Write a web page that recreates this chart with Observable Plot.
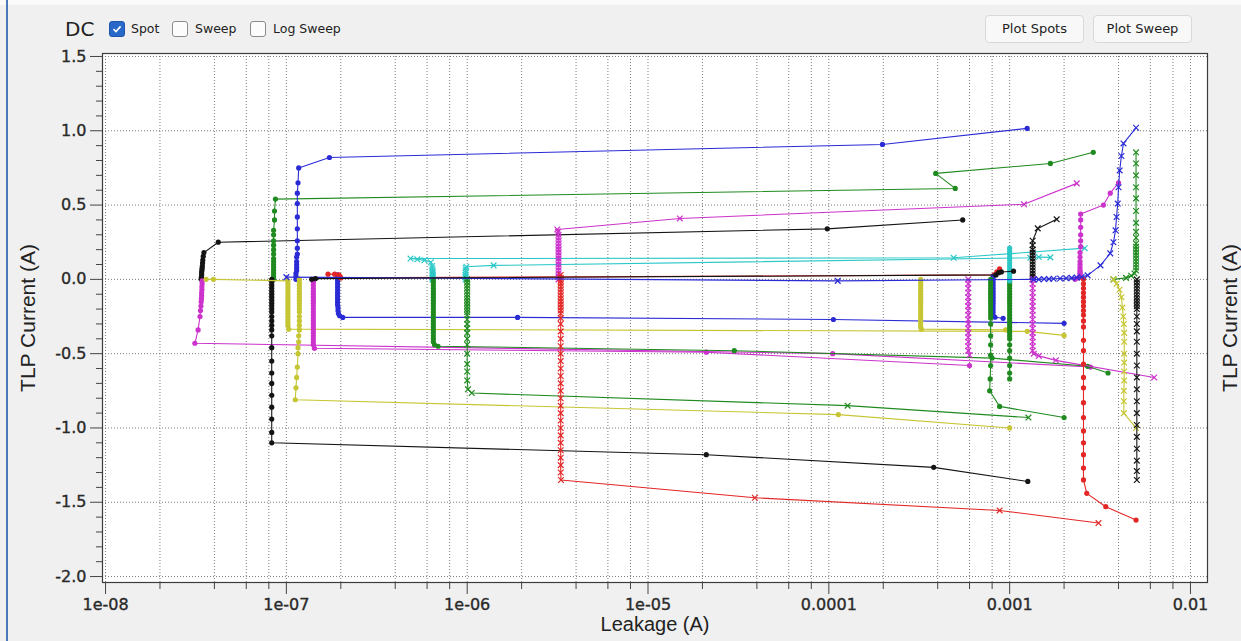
<!DOCTYPE html>
<html>
<head>
<meta charset="utf-8">
<script src="https://cdn.jsdelivr.net/npm/d3@7"></script>
<script src="https://cdn.jsdelivr.net/npm/@observablehq/plot@0.6"></script>
<style>
html,body{margin:0;padding:0;}
body{width:1241px;height:641px;background:#f0f0f0;position:relative;overflow:hidden;font-family:"DejaVu Sans",Verdana,sans-serif;}
#topband{position:absolute;left:0;top:0;width:1241px;height:5px;background:#fafafa;}
#edge{position:absolute;left:6px;top:0;width:2px;height:641px;background:#4a78b8;}
#chart{position:absolute;left:0;top:0;}
.hdr{position:absolute;color:#222;white-space:nowrap;}
#dc{left:65px;top:17px;font-size:20px;}
.cb{position:absolute;top:21px;width:16px;height:16px;border:1px solid #8c8c8c;border-radius:3px;background:#fcfcfc;box-sizing:border-box;}
.cb.on{background:#2868c8;border-color:#1f56ab;}
.cb svg{position:absolute;left:1px;top:1px;}
.lbl{position:absolute;top:21px;font-size:12.5px;color:#222;}
.btn{position:absolute;top:15px;height:28px;width:99px;background:#f8f8f8;border:1px solid #d9d9d9;border-radius:4px;box-sizing:border-box;font-size:13px;color:#222;text-align:center;line-height:26px;}
</style>
</head>
<body>
<div id="topband"></div>
<div id="chart"></div>
<div id="edge"></div>
<div class="hdr" id="dc">DC</div>
<div class="cb on" style="left:109px"><svg width="12" height="12" viewBox="0 0 12 12"><path d="M2.5 6.2 L5 8.6 L9.6 3.4" fill="none" stroke="#fff" stroke-width="1.6"/></svg></div>
<div class="lbl" style="left:131px">Spot</div>
<div class="cb" style="left:172px"></div>
<div class="lbl" style="left:195px">Sweep</div>
<div class="cb" style="left:250px"></div>
<div class="lbl" style="left:273px">Log Sweep</div>
<div class="btn" style="left:985px">Plot Spots</div>
<div class="btn" style="left:1093px">Plot Sweep</div>
<script>
// ---- data: [leakage (A), TLP current (A)] per measured series ----
const kA = [[3.38e-8,0.00],[3.39e-8,0.015],[3.40e-8,0.03],[3.40e-8,0.045],[3.41e-8,0.06],[3.42e-8,0.075],[3.43e-8,0.09],[3.44e-8,0.11],[3.45e-8,0.13],[3.47e-8,0.155],[3.50e-8,0.18],[4.2e-8,0.25],[9.8e-5,0.34],[5.5e-4,0.40]];
const mB = [[3.42e-8,-0.01],[3.42e-8,-0.03],[3.41e-8,-0.05],[3.41e-8,-0.07],[3.40e-8,-0.09],[3.40e-8,-0.11],[3.39e-8,-0.13],[3.38e-8,-0.15],[3.37e-8,-0.18],[3.35e-8,-0.21],[3.33e-8,-0.25],[3.25e-8,-0.34],[3.12e-8,-0.43],[1.05e-4,-0.50],[2.8e-3,-0.59]];
const gA = [[8.5e-8,0.00],[8.5e-8,0.02],[8.5e-8,0.04],[8.5e-8,0.06],[8.5e-8,0.08],[8.5e-8,0.10],[8.5e-8,0.12],[8.5e-8,0.14],[8.5e-8,0.17],[8.5e-8,0.20],[8.5e-8,0.23],[8.5e-8,0.26],[8.5e-8,0.30],[8.5e-8,0.33],[8.6e-8,0.40],[8.6e-8,0.46],[8.7e-8,0.54],[5.0e-4,0.612],[3.9e-4,0.713],[1.68e-3,0.78],[2.9e-3,0.855]];
const kB = [[8.3e-8,0.00],[8.3e-8,-0.02],[8.3e-8,-0.04],[8.3e-8,-0.06],[8.3e-8,-0.08],[8.3e-8,-0.10],[8.3e-8,-0.12],[8.3e-8,-0.14],[8.3e-8,-0.16],[8.3e-8,-0.18],[8.3e-8,-0.20],[8.3e-8,-0.22],[8.3e-8,-0.25],[8.3e-8,-0.28],[8.3e-8,-0.31],[8.3e-8,-0.34],[8.3e-8,-0.38],[8.3e-8,-0.46],[8.3e-8,-0.55],[8.3e-8,-0.63],[8.3e-8,-0.70],[8.3e-8,-0.78],[8.3e-8,-0.86],[8.3e-8,-0.94],[8.3e-8,-1.03],[8.3e-8,-1.10],[2.1e-5,-1.18],[3.8e-4,-1.265],[1.26e-3,-1.36]];
const bA = [[1.13e-7,0.00],[1.13e-7,0.02],[1.13e-7,0.04],[1.14e-7,0.06],[1.14e-7,0.08],[1.14e-7,0.10],[1.14e-7,0.12],[1.14e-7,0.15],[1.15e-7,0.17],[1.15e-7,0.21],[1.15e-7,0.26],[1.15e-7,0.34],[1.15e-7,0.42],[1.15e-7,0.51],[1.15e-7,0.58],[1.16e-7,0.65],[1.17e-7,0.75],[1.73e-7,0.82],[1.98e-4,0.908],[1.25e-3,1.016]];
const yA = [[3.6e-8,0.00],[3.95e-8,0.00],[1.02e-7,-0.01],[1.02e-7,-0.03],[1.02e-7,-0.05],[1.02e-7,-0.07],[1.02e-7,-0.09],[1.02e-7,-0.11],[1.02e-7,-0.13],[1.02e-7,-0.15],[1.02e-7,-0.17],[1.02e-7,-0.19],[1.02e-7,-0.21],[1.02e-7,-0.23],[1.02e-7,-0.25],[1.02e-7,-0.27],[1.02e-7,-0.29],[1.02e-7,-0.31],[1.03e-7,-0.335],[1.25e-3,-0.35],[2.0e-3,-0.377]];
const yB = [[1.18e-7,0.00],[1.18e-7,-0.02],[1.18e-7,-0.04],[1.18e-7,-0.06],[1.18e-7,-0.08],[1.18e-7,-0.10],[1.18e-7,-0.12],[1.18e-7,-0.14],[1.18e-7,-0.16],[1.18e-7,-0.18],[1.18e-7,-0.20],[1.18e-7,-0.22],[1.18e-7,-0.25],[1.18e-7,-0.28],[1.18e-7,-0.31],[1.18e-7,-0.34],[1.17e-7,-0.38],[1.17e-7,-0.42],[1.16e-7,-0.46],[1.16e-7,-0.50],[1.15e-7,-0.59],[1.14e-7,-0.66],[1.13e-7,-0.73],[1.12e-7,-0.81],[1.13e-4,-0.91],[1.0e-3,-1.0]];
const mC = [[1.41e-7,0.00],[1.41e-7,-0.02],[1.41e-7,-0.04],[1.41e-7,-0.06],[1.41e-7,-0.08],[1.41e-7,-0.10],[1.41e-7,-0.12],[1.41e-7,-0.14],[1.41e-7,-0.16],[1.41e-7,-0.18],[1.41e-7,-0.20],[1.41e-7,-0.22],[1.41e-7,-0.24],[1.41e-7,-0.26],[1.41e-7,-0.28],[1.41e-7,-0.30],[1.41e-7,-0.32],[1.41e-7,-0.34],[1.41e-7,-0.36],[1.41e-7,-0.38],[1.41e-7,-0.40],[1.41e-7,-0.42],[1.41e-7,-0.44],[1.43e-7,-0.464],[2.1e-5,-0.49],[6.0e-4,-0.58]];
const bB = [[1.92e-7,0.03],[1.92e-7,0.01],[1.92e-7,-0.01],[1.92e-7,-0.03],[1.92e-7,-0.05],[1.92e-7,-0.07],[1.92e-7,-0.09],[1.92e-7,-0.11],[1.92e-7,-0.13],[1.92e-7,-0.15],[1.92e-7,-0.17],[1.93e-7,-0.19],[1.93e-7,-0.21],[1.94e-7,-0.23],[1.97e-7,-0.245],[2.05e-7,-0.256],[1.9e-6,-0.256],[1.06e-4,-0.27],[2.0e-3,-0.296]];
const rA = [[1.7e-7,0.035],[1.85e-7,0.035],[1.95e-7,0.03],[1.98e-7,0.02],[2.0e-7,0.01],[8.2e-4,0.03],[8.5e-4,0.05],[8.8e-4,0.07]];
const cA = [[6.44e-7,0.00],[6.44e-7,0.01],[6.44e-7,0.02],[6.44e-7,0.03],[6.44e-7,0.04],[6.44e-7,0.05],[6.44e-7,0.06],[6.42e-7,0.075],[6.4e-7,0.09],[6.3e-7,0.115],[5.8e-7,0.128],[5.3e-7,0.135],[4.86e-7,0.14],[4.9e-4,0.145],[2.6e-3,0.21]];
const gB = [[6.5e-7,0.00],[6.5e-7,-0.02],[6.5e-7,-0.04],[6.5e-7,-0.06],[6.5e-7,-0.08],[6.5e-7,-0.10],[6.5e-7,-0.12],[6.5e-7,-0.14],[6.5e-7,-0.16],[6.5e-7,-0.18],[6.5e-7,-0.20],[6.5e-7,-0.22],[6.5e-7,-0.24],[6.5e-7,-0.26],[6.5e-7,-0.28],[6.5e-7,-0.30],[6.5e-7,-0.32],[6.5e-7,-0.34],[6.5e-7,-0.36],[6.5e-7,-0.38],[6.5e-7,-0.40],[6.5e-7,-0.42],[6.6e-7,-0.44],[6.9e-7,-0.45],[3.0e-5,-0.48],[8.0e-4,-0.53],[2.7e-3,-0.585],[3.5e-3,-0.63]];
const cB = [[9.8e-7,0.00],[9.8e-7,0.015],[9.8e-7,0.03],[9.8e-7,0.045],[9.8e-7,0.06],[9.8e-7,0.075],[9.9e-7,0.085],[1.4e-6,0.094],[1.3e-3,0.145],[1.45e-3,0.15],[1.68e-3,0.148]];
const gC = [[1.0e-6,0.00],[1.0e-6,-0.02],[1.0e-6,-0.04],[1.0e-6,-0.06],[1.0e-6,-0.08],[1.0e-6,-0.10],[1.0e-6,-0.12],[1.0e-6,-0.14],[1.0e-6,-0.16],[1.0e-6,-0.18],[1.0e-6,-0.20],[1.0e-6,-0.22],[1.0e-6,-0.24],[1.0e-6,-0.27],[1.0e-6,-0.30],[1.0e-6,-0.33],[1.0e-6,-0.36],[1.0e-6,-0.40],[1.0e-6,-0.44],[1.0e-6,-0.50],[1.0e-6,-0.57],[1.0e-6,-0.62],[1.0e-6,-0.68],[1.01e-6,-0.74],[1.06e-6,-0.765],[1.27e-4,-0.85],[1.27e-3,-0.93]];
const mD = [[3.2e-6,0.00],[3.2e-6,0.02],[3.2e-6,0.04],[3.2e-6,0.06],[3.2e-6,0.08],[3.2e-6,0.10],[3.2e-6,0.12],[3.2e-6,0.14],[3.2e-6,0.16],[3.2e-6,0.18],[3.2e-6,0.20],[3.2e-6,0.22],[3.2e-6,0.24],[3.2e-6,0.26],[3.2e-6,0.28],[3.2e-6,0.30],[3.18e-6,0.32],[3.15e-6,0.336],[1.5e-5,0.41],[1.2e-3,0.505],[2.35e-3,0.646]];
const rB = [[3.29e-6,0.03],[3.29e-6,0.01],[3.29e-6,-0.01],[3.29e-6,-0.03],[3.29e-6,-0.05],[3.29e-6,-0.07],[3.29e-6,-0.09],[3.29e-6,-0.11],[3.29e-6,-0.13],[3.29e-6,-0.15],[3.29e-6,-0.17],[3.29e-6,-0.19],[3.29e-6,-0.21],[3.29e-6,-0.23],[3.29e-6,-0.26],[3.29e-6,-0.30],[3.29e-6,-0.35],[3.29e-6,-0.40],[3.29e-6,-0.45],[3.29e-6,-0.50],[3.29e-6,-0.55],[3.29e-6,-0.60],[3.29e-6,-0.65],[3.29e-6,-0.70],[3.29e-6,-0.75],[3.29e-6,-0.80],[3.29e-6,-0.85],[3.29e-6,-0.90],[3.29e-6,-0.95],[3.29e-6,-1.00],[3.29e-6,-1.05],[3.29e-6,-1.10],[3.29e-6,-1.15],[3.29e-6,-1.20],[3.29e-6,-1.25],[3.29e-6,-1.30],[3.3e-6,-1.35],[3.9e-5,-1.47],[8.8e-4,-1.555],[3.1e-3,-1.64]];
const yC = [[3.22e-4,0.00],[3.22e-4,-0.02],[3.22e-4,-0.04],[3.22e-4,-0.06],[3.22e-4,-0.08],[3.22e-4,-0.10],[3.22e-4,-0.12],[3.22e-4,-0.14],[3.22e-4,-0.16],[3.22e-4,-0.18],[3.22e-4,-0.20],[3.22e-4,-0.22],[3.22e-4,-0.24],[3.22e-4,-0.26],[3.22e-4,-0.28],[3.22e-4,-0.30],[3.22e-4,-0.32],[3.25e-4,-0.335],[9.5e-4,-0.34]];
const mE = [[5.9e-4,0.00],[5.9e-4,-0.03],[5.9e-4,-0.06],[5.9e-4,-0.09],[5.9e-4,-0.12],[5.9e-4,-0.15],[5.9e-4,-0.18],[5.9e-4,-0.21],[5.9e-4,-0.24],[5.9e-4,-0.27],[5.9e-4,-0.30],[5.9e-4,-0.33],[5.9e-4,-0.36],[5.9e-4,-0.39],[5.9e-4,-0.42],[5.9e-4,-0.45],[5.9e-4,-0.48],[6.0e-4,-0.51]];
const bC = [[8.1e-4,0.02],[8.1e-4,0.00],[8.1e-4,-0.02],[8.1e-4,-0.04],[8.1e-4,-0.06],[8.1e-4,-0.08],[8.1e-4,-0.10],[8.1e-4,-0.12],[8.1e-4,-0.14],[8.1e-4,-0.16],[8.1e-4,-0.18],[8.1e-4,-0.20],[8.1e-4,-0.22],[8.1e-4,-0.24],[8.3e-4,-0.255],[9.2e-4,-0.262]];
const gD = [[7.85e-4,0.00],[7.85e-4,-0.02],[7.85e-4,-0.04],[7.85e-4,-0.06],[7.85e-4,-0.08],[7.85e-4,-0.10],[7.85e-4,-0.12],[7.85e-4,-0.14],[7.85e-4,-0.16],[7.85e-4,-0.18],[7.85e-4,-0.20],[7.85e-4,-0.22],[7.85e-4,-0.24],[7.85e-4,-0.26],[7.85e-4,-0.30],[7.85e-4,-0.38],[7.85e-4,-0.44],[7.85e-4,-0.51],[7.85e-4,-0.58],[7.8e-4,-0.67],[7.75e-4,-0.75],[8.8e-4,-0.855],[2.0e-3,-0.93]];
const gE = [[1.0e-3,0.00],[1.0e-3,-0.02],[1.0e-3,-0.04],[1.0e-3,-0.06],[1.0e-3,-0.08],[1.0e-3,-0.10],[1.0e-3,-0.12],[1.0e-3,-0.14],[1.0e-3,-0.16],[1.0e-3,-0.18],[1.0e-3,-0.20],[1.0e-3,-0.22],[1.0e-3,-0.24],[1.0e-3,-0.26],[1.0e-3,-0.28],[1.0e-3,-0.30],[1.0e-3,-0.32],[1.0e-3,-0.34],[1.0e-3,-0.36],[1.0e-3,-0.38],[1.0e-3,-0.40],[1.0e-3,-0.44],[1.0e-3,-0.48],[1.0e-3,-0.53],[1.0e-3,-0.58],[1.0e-3,-0.63],[1.0e-3,-0.67]];
const cC = [[1.0e-3,-0.01],[1.0e-3,0.01],[1.0e-3,0.03],[1.0e-3,0.05],[1.0e-3,0.07],[1.0e-3,0.09],[1.0e-3,0.11],[1.0e-3,0.13],[1.0e-3,0.15],[1.0e-3,0.17],[1.0e-3,0.19],[1.0e-3,0.21]];
const kC = [[1.34e-3,0.00],[1.34e-3,0.02],[1.34e-3,0.04],[1.34e-3,0.06],[1.34e-3,0.08],[1.34e-3,0.10],[1.34e-3,0.12],[1.34e-3,0.14],[1.34e-3,0.16],[1.34e-3,0.18],[1.34e-3,0.20],[1.34e-3,0.23],[1.34e-3,0.26],[1.43e-3,0.343],[1.82e-3,0.404]];
const mF = [[1.34e-3,0.00],[1.34e-3,-0.03],[1.34e-3,-0.06],[1.34e-3,-0.09],[1.34e-3,-0.12],[1.34e-3,-0.15],[1.34e-3,-0.18],[1.34e-3,-0.21],[1.34e-3,-0.24],[1.34e-3,-0.27],[1.34e-3,-0.30],[1.34e-3,-0.33],[1.34e-3,-0.36],[1.34e-3,-0.39],[1.34e-3,-0.42],[1.34e-3,-0.45],[1.34e-3,-0.48],[1.36e-3,-0.50],[1.45e-3,-0.515],[1.8e-3,-0.545],[6.3e-3,-0.66]];
const mG = [[2.3e-3,0.00],[2.4e-3,0.01],[2.45e-3,0.02],[2.45e-3,0.03],[2.45e-3,0.04],[2.45e-3,0.05],[2.45e-3,0.06],[2.45e-3,0.08],[2.45e-3,0.10],[2.45e-3,0.12],[2.45e-3,0.15],[2.45e-3,0.18],[2.47e-3,0.22],[2.47e-3,0.26],[2.47e-3,0.30],[2.47e-3,0.35],[2.47e-3,0.40],[2.47e-3,0.44],[3.3e-3,0.50],[3.6e-3,0.58],[4.0e-3,0.65]];
const rC = [[2.56e-3,0.00],[2.56e-3,-0.03],[2.56e-3,-0.06],[2.56e-3,-0.09],[2.56e-3,-0.12],[2.56e-3,-0.15],[2.56e-3,-0.18],[2.56e-3,-0.21],[2.56e-3,-0.24],[2.56e-3,-0.28],[2.56e-3,-0.32],[2.56e-3,-0.41],[2.56e-3,-0.48],[2.56e-3,-0.57],[2.56e-3,-0.66],[2.56e-3,-0.73],[2.56e-3,-0.83],[2.56e-3,-0.93],[2.56e-3,-1.02],[2.56e-3,-1.10],[2.56e-3,-1.18],[2.56e-3,-1.27],[2.56e-3,-1.35],[2.67e-3,-1.44],[3.4e-3,-1.53],[5.0e-3,-1.62]];
const bD = [[1.0e-7,0.015],[1.12e-4,-0.01],[1.36e-3,0.0],[1.45e-3,0.0],[1.55e-3,0.002],[1.65e-3,0.003],[1.75e-3,0.004],[1.9e-3,0.006],[2.05e-3,0.008],[2.2e-3,0.01],[2.35e-3,0.012],[2.5e-3,0.016],[2.7e-3,0.027],[3.18e-3,0.094],[3.6e-3,0.175],[3.75e-3,0.25],[3.85e-3,0.33],[3.9e-3,0.42],[3.96e-3,0.51],[4.0e-3,0.62],[4.06e-3,0.733],[4.15e-3,0.83],[4.26e-3,0.915],[5.0e-3,1.02]];
const gF = [[3.75e-3,0.00],[4.4e-3,0.01],[4.7e-3,0.025],[4.9e-3,0.04],[5.0e-3,0.06],[5.0e-3,0.08],[5.0e-3,0.10],[5.0e-3,0.12],[5.0e-3,0.14],[5.0e-3,0.16],[5.0e-3,0.18],[5.0e-3,0.20],[5.0e-3,0.22],[5.0e-3,0.24],[5.0e-3,0.28],[5.0e-3,0.32],[5.0e-3,0.38],[5.0e-3,0.46],[5.0e-3,0.545],[5.0e-3,0.62],[5.0e-3,0.70],[5.0e-3,0.78],[5.0e-3,0.855]];
const yD = [[3.76e-3,0.00],[3.9e-3,-0.03],[4.05e-3,-0.07],[4.15e-3,-0.12],[4.2e-3,-0.19],[4.25e-3,-0.25],[4.28e-3,-0.30],[4.3e-3,-0.36],[4.3e-3,-0.42],[4.3e-3,-0.50],[4.3e-3,-0.56],[4.3e-3,-0.62],[4.3e-3,-0.68],[4.28e-3,-0.75],[4.28e-3,-0.82],[4.28e-3,-0.90],[5.0e-3,-1.0]];
const kD = [[5.05e-3,0.00],[5.05e-3,-0.02],[5.05e-3,-0.04],[5.05e-3,-0.06],[5.05e-3,-0.08],[5.05e-3,-0.10],[5.05e-3,-0.12],[5.05e-3,-0.14],[5.05e-3,-0.16],[5.05e-3,-0.18],[5.05e-3,-0.20],[5.05e-3,-0.25],[5.05e-3,-0.30],[5.05e-3,-0.35],[5.05e-3,-0.42],[5.05e-3,-0.50],[5.05e-3,-0.58],[5.05e-3,-0.66],[5.05e-3,-0.74],[5.05e-3,-0.82],[5.05e-3,-0.90],[5.05e-3,-0.98],[5.05e-3,-1.06],[5.05e-3,-1.14],[5.05e-3,-1.22],[5.05e-3,-1.29],[5.05e-3,-1.35]];
const kE = [[1.38e-7,0.00],[1.45e-7,0.005],[8.4e-4,0.03],[8.7e-4,0.045],[9.0e-4,0.05],[1.05e-3,0.055]];

// ---- axes: tick values and labels ----
const xMajor = [1e-8, 1e-7, 1e-6, 1e-5, 1e-4, 1e-3, 1e-2];
const xMajorLabels = ["1e-08", "1e-07", "1e-06", "1e-05", "0.0001", "0.001", "0.01"];
const xMinor = [2e-8,4e-8,6e-8,8e-8, 2e-7,4e-7,6e-7,8e-7, 2e-6,4e-6,6e-6,8e-6, 2e-5,4e-5,6e-5,8e-5, 2e-4,4e-4,6e-4,8e-4, 2e-3,4e-3,6e-3,8e-3];
const yMajor = [1.5, 1.0, 0.5, 0.0, -0.5, -1.0, -1.5, -2.0];
const yMajorLabels = ["1.5", "1.0", "0.5", "0.0", "-0.5", "-1.0", "-1.5", "-2.0"];
const yMinor = [1.4,1.3,1.2,1.1, 0.9,0.8,0.7,0.6, 0.4,0.3,0.2,0.1, -0.1,-0.2,-0.3,-0.4, -0.6,-0.7,-0.8,-0.9, -1.1,-1.2,-1.3,-1.4, -1.6,-1.7,-1.8,-1.9];

// ---- styles ----
const BLUE = "#2b2bd6", GREEN = "#1f8a1f", MAGENTA = "#cc33cc", BLACK = "#141414",
      RED = "#e32626", YELLOW = "#c6c634", CYAN = "#2cc8c8";
const seriesList   = [kA, mB, gA, kB, bA, yA, yB, mC, bB, rA, cA, gB, cB, gC, mD, rB, yC, mE, bC, gD, gE, cC, kC, mF, mG, rC, bD, gF, yD, kD, kE];
const seriesColor  = [BLACK, MAGENTA, GREEN, BLACK, BLUE, YELLOW, YELLOW, MAGENTA, BLUE, RED, CYAN, GREEN, CYAN, GREEN, MAGENTA, RED, YELLOW, MAGENTA, BLUE, GREEN, GREEN, CYAN, BLACK, MAGENTA, MAGENTA, RED, BLUE, GREEN, YELLOW, BLACK, BLACK];
const seriesSymbol = ["dot","dot","dot","dot","dot","dot","dot","dot","dot","dot","x","dot","x","x","x","x","dot","x","dot","dot","dot","dot","x","x","dot","dot","x","x","x","x","dot"];

const dataMarks = [];
seriesList.forEach((s, k) => {
  const rows = s.map(([x, y]) => ({x, y}));
  const c = seriesColor[k];
  dataMarks.push(Plot.line(rows, {x: "x", y: "y", stroke: c, strokeWidth: 1.1}));
  if (seriesSymbol[k] === "dot") {
    dataMarks.push(Plot.dot(rows, {x: "x", y: "y", r: 2.6, fill: c, stroke: "none"}));
  } else {
    dataMarks.push(Plot.dot(rows, {x: "x", y: "y", r: 2.7, symbol: "times", stroke: c, strokeWidth: 1.2}));
  }
});

const gridStyle = {stroke: "#6e6e6e", strokeOpacity: 0.9, strokeDasharray: "1,2", strokeWidth: 1};
const tickFont = "DejaVu Sans, Verdana, sans-serif";
const labelFont = "Liberation Sans, Arial, sans-serif";

const chart = Plot.plot({
  width: 1241,
  height: 641,
  marginLeft: 102,
  marginRight: 34,
  marginTop: 53,
  marginBottom: 59,
  style: {background: "transparent", fontFamily: tickFont, color: "#333"},
  x: {type: "log", domain: [9.62e-9, 1.242e-2]},
  y: {domain: [-2.04, 1.52]},
  marks: [
    Plot.frame({fill: "white", stroke: "none"}),
    Plot.gridX({ticks: xMajor.concat(xMinor), ...gridStyle}),
    Plot.gridY({ticks: yMajor, ...gridStyle}),
    ...dataMarks,
    Plot.frame({stroke: "#3c3c3c", strokeWidth: 1.2}),
    Plot.axisX({ticks: xMajor, tickSize: 12, tickPadding: 4, label: null, fontSize: 16,
      tickFormat: d => xMajorLabels[xMajor.indexOf(d)], stroke: "#444", fill: "#2a2a2a"}),
    Plot.axisX({ticks: xMinor, tickSize: 7, label: null, tickFormat: () => "", stroke: "#444"}),
    Plot.axisY({ticks: yMajor, tickSize: 12, tickPadding: 4, label: null, fontSize: 16,
      tickFormat: d => yMajorLabels[yMajor.indexOf(d)], stroke: "#444", fill: "#2a2a2a"}),
    Plot.axisY({ticks: yMinor, tickSize: 6, label: null, tickFormat: () => "", stroke: "#444"}),
    Plot.text(["TLP Current (A)"], {text: d => d, frameAnchor: "left", dx: -74, rotate: -90,
      textAnchor: "middle", fontSize: 21, fontFamily: labelFont, fill: "#222"}),
    Plot.text(["TLP Current (A)"], {text: d => d, frameAnchor: "right", dx: 23, rotate: -90,
      textAnchor: "middle", fontSize: 21, fontFamily: labelFont, fill: "#222"}),
    Plot.text(["Leakage (A)"], {text: d => d, frameAnchor: "bottom", dy: 48,
      textAnchor: "middle", fontSize: 20, fontFamily: labelFont, fill: "#222"})
  ]
});
// slightly heavier tick labels, like the reference
d3.select(chart).selectAll('g[aria-label="x-axis tick label"] text, g[aria-label="y-axis tick label"] text')
  .style("stroke", "#2a2a2a").style("stroke-width", "0.35px");
document.getElementById("chart").appendChild(chart);
</script>
</body>
</html>
